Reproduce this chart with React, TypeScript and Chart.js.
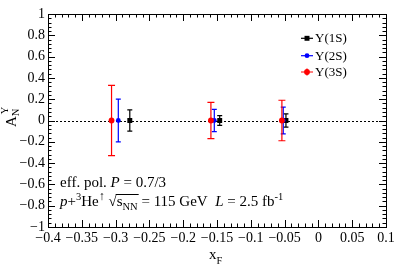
import React, { useEffect, useRef } from 'react';
import { Chart, registerables } from 'chart.js';

Chart.register(...registerables);

// ---- data ----
const xTickValues = [-0.4, -0.35, -0.3, -0.25, -0.2, -0.15, -0.1, -0.05, 0, 0.05, 0.1];
const yTickValues = [-1, -0.8, -0.6, -0.4, -0.2, 0, 0.2, 0.4, 0.6, 0.8, 1];
const seriesLabels = ['Υ(1S)', 'Υ(2S)', 'Υ(3S)'];

const xF1S = [-0.279, -0.146, -0.048];
const aN1S = [0, 0, 0];
const err1S = [0.10, 0.045, 0.062];

const xF2S = [-0.296, -0.154, -0.052];
const aN2S = [0, 0, 0];
const err2S = [0.20, 0.105, 0.125];

const xF3S = [-0.306, -0.159, -0.054];
const aN3S = [0, 0, 0];
const err3S = [0.33, 0.17, 0.19];

const SERIF = '"Liberation Serif", "Times New Roman", serif';

type Series = {
  label: string;
  color: string;
  xs: number[];
  ys: number[];
  errs: number[];
  style: 'rect' | 'circle';
  radius: number;
  cap: number;
  order: number;
};

const series: Series[] = [
  { label: seriesLabels[0], color: '#000000', xs: xF1S, ys: aN1S, errs: err1S, style: 'rect', radius: 3.5, cap: 5, order: 2 },
  { label: seriesLabels[1], color: '#0000ff', xs: xF2S, ys: aN2S, errs: err2S, style: 'circle', radius: 2.4, cap: 5, order: 1 },
  { label: seriesLabels[2], color: '#ff0000', xs: xF3S, ys: aN3S, errs: err3S, style: 'circle', radius: 2.9, cap: 7, order: 0 },
];

const fmt = (v: number) => {
  const r = Math.round(v * 100) / 100;
  return r < 0 ? '\u2212' + String(-r) : String(r);
};

type Seg = { t: string; it?: boolean; sh?: number; sc?: number; over?: boolean };

function drawRich(ctx: CanvasRenderingContext2D, segs: Seg[], x: number, y: number, size: number) {
  let cx = x;
  let overStart: number | null = null;
  let overEnd = 0;
  ctx.textBaseline = 'alphabetic';
  ctx.textAlign = 'left';
  for (const s of segs) {
    const fs = size * (s.sc ?? 1);
    ctx.font = `${s.it ? 'italic ' : ''}${fs}px ${SERIF}`;
    const w = ctx.measureText(s.t).width;
    ctx.fillText(s.t, cx, y + (s.sh ?? 0) * size);
    if (s.over) {
      if (overStart === null) overStart = cx;
      overEnd = cx + w;
    }
    cx += w;
  }
  if (overStart !== null) {
    ctx.beginPath();
    ctx.lineWidth = 1;
    const oy = Math.round(y - size * 0.82) + 0.5;
    ctx.moveTo(overStart - 1, oy);
    ctx.lineTo(overEnd + 1, oy);
    ctx.stroke();
  }
}

function drawMarker(ctx: CanvasRenderingContext2D, s: Series, px: number, py: number) {
  ctx.fillStyle = s.color;
  ctx.beginPath();
  if (s.style === 'rect') {
    const h = s.radius * Math.SQRT1_2;
    ctx.rect(px - h, py - h, 2 * h, 2 * h);
  } else {
    ctx.arc(px, py, s.radius, 0, Math.PI * 2);
  }
  ctx.fill();
}

const rootPlugin = {
  id: 'rootStyle',
  beforeDatasetsDraw(chart: any) {
    const { ctx, chartArea: a, scales } = chart;
    const xs = scales.x;
    const ys = scales.y;
    ctx.save();
    // dotted zero line
    const y0 = Math.round(ys.getPixelForValue(0)) + 0.5;
    ctx.strokeStyle = '#000';
    ctx.lineWidth = 1;
    ctx.setLineDash([2, 2]);
    ctx.beginPath();
    ctx.moveTo(a.left, y0);
    ctx.lineTo(a.right, y0);
    ctx.stroke();
    ctx.setLineDash([]);
    // error bars
    const ordered = [...series].sort((p, q) => q.order - p.order);
    for (const s of ordered) {
      ctx.strokeStyle = s.color;
      ctx.lineWidth = 1.2;
      s.xs.forEach((xv, j) => {
        const px = xs.getPixelForValue(xv);
        const top = ys.getPixelForValue(s.ys[j] + s.errs[j]);
        const bot = ys.getPixelForValue(s.ys[j] - s.errs[j]);
        ctx.beginPath();
        ctx.moveTo(px, top);
        ctx.lineTo(px, bot);
        ctx.moveTo(px - s.cap / 2, top);
        ctx.lineTo(px + s.cap / 2, top);
        ctx.moveTo(px - s.cap / 2, bot);
        ctx.lineTo(px + s.cap / 2, bot);
        ctx.stroke();
      });
    }
    ctx.restore();
  },
  afterDraw(chart: any) {
    const { ctx, chartArea: a, scales } = chart;
    const xs = scales.x;
    const ys = scales.y;
    ctx.save();
    ctx.strokeStyle = '#000';
    ctx.fillStyle = '#000';
    ctx.lineWidth = 1;
    // frame
    ctx.strokeRect(Math.round(a.left) + 0.5, Math.round(a.top) + 0.5, Math.round(a.right - a.left), Math.round(a.bottom - a.top));
    // ticks (inward, mirrored)
    const majorLen = 7;
    const minorLen = 3.5;
    ctx.beginPath();
    for (let i = 0; i <= 50; i++) {
      const v = -0.4 + i * 0.01;
      const px = Math.round(xs.getPixelForValue(v)) + 0.5;
      const len = i % 5 === 0 ? majorLen : minorLen;
      ctx.moveTo(px, a.bottom);
      ctx.lineTo(px, a.bottom - len);
      ctx.moveTo(px, a.top);
      ctx.lineTo(px, a.top + len);
    }
    for (let i = 0; i <= 50; i++) {
      const v = -1 + i * 0.04;
      const py = Math.round(ys.getPixelForValue(v)) + 0.5;
      const len = i % 5 === 0 ? majorLen : minorLen;
      ctx.moveTo(a.left, py);
      ctx.lineTo(a.left + len, py);
      ctx.moveTo(a.right, py);
      ctx.lineTo(a.right - len, py);
    }
    ctx.stroke();

    // x title
    drawRich(ctx, [{ t: 'x' }, { t: 'F', sc: 0.7, sh: 0.3 }], 209, 259, 15);

    // y title (rotated)
    ctx.save();
    ctx.translate(15.5, 127);
    ctx.rotate(-Math.PI / 2);
    ctx.font = `15px ${SERIF}`;
    ctx.textBaseline = 'alphabetic';
    ctx.textAlign = 'left';
    ctx.fillText('A', 0, 0);
    const wA = ctx.measureText('A').width;
    ctx.font = `10.5px ${SERIF}`;
    ctx.fillText('N', wA, 3.5);
    ctx.fillText('Υ', wA + 2, -7.5);
    ctx.restore();

    // legend
    const legY = [38.3, 55.7, 72];
    series.forEach((s, i) => {
      const ly = legY[i];
      ctx.strokeStyle = s.color;
      ctx.lineWidth = 1.2;
      ctx.beginPath();
      ctx.moveTo(301, ly);
      ctx.lineTo(313, ly);
      if (s.order === 0) {
        ctx.moveTo(307, ly - 3.5);
        ctx.lineTo(307, ly + 3.5);
      }
      ctx.stroke();
      drawMarker(ctx, s, 307, ly);
      ctx.fillStyle = '#000';
      ctx.font = `13px ${SERIF}`;
      ctx.textBaseline = 'middle';
      ctx.textAlign = 'left';
      ctx.fillText(s.label, 315, ly + 0.5);
    });

    // annotation text
    ctx.fillStyle = '#000';
    ctx.strokeStyle = '#000';
    drawRich(ctx, [{ t: 'eff. pol. ' }, { t: 'P', it: true }, { t: ' = 0.7/3' }], 60, 187, 15);
    drawRich(
      ctx,
      [
        { t: 'p', it: true },
        { t: '+' },
        { t: '3', sc: 0.7, sh: -0.4 },
        { t: 'He' },
        { t: '\u2191', sc: 0.8, sh: -0.4 },
        { t: ' ' },
        { t: '\u221A' },
        { t: 's', over: true },
        { t: 'NN', sc: 0.7, sh: 0.25, over: true },
        { t: ' = 115 GeV  ' },
        { t: 'L', it: true },
        { t: ' = 2.5 fb' },
        { t: '-1', sc: 0.7, sh: -0.4 },
      ],
      60,
      206,
      15
    );
    ctx.restore();
  },
};

export default function App() {
  const canvasRef = useRef<HTMLCanvasElement | null>(null);

  useEffect(() => {
    const canvas = canvasRef.current;
    if (!canvas) return;
    const chart = new Chart(canvas, {
      type: 'scatter',
      data: {
        datasets: series.map((s) => ({
          label: s.label,
          data: s.xs.map((xv, j) => ({ x: xv, y: s.ys[j] })),
          backgroundColor: s.color,
          borderColor: s.color,
          borderWidth: 0,
          pointStyle: s.style,
          pointRadius: s.radius,
          pointHoverRadius: s.radius,
          order: s.order,
        })),
      },
      options: {
        animation: false,
        responsive: false,
        devicePixelRatio: 1,
        events: [],
        layout: { padding: { left: 0, top: 14, right: 13, bottom: 0 } },
        plugins: {
          legend: { display: false },
          tooltip: { enabled: false },
          title: { display: false },
        },
        scales: {
          x: {
            type: 'linear',
            min: -0.4,
            max: 0.1,
            afterBuildTicks: (s: any) => {
              s.ticks = xTickValues.map((v) => ({ value: v }));
            },
            afterFit: (s: any) => {
              s.height = 44;
            },
            ticks: {
              callback: (v: any) => fmt(Number(v)),
              font: { family: SERIF, size: 14 },
              color: '#000',
              padding: 3,
              maxRotation: 0,
              autoSkip: false,
            },
            grid: { display: false, drawTicks: false },
            border: { display: false },
          },
          y: {
            type: 'linear',
            min: -1,
            max: 1,
            afterBuildTicks: (s: any) => {
              s.ticks = yTickValues.map((v) => ({ value: v }));
            },
            afterFit: (s: any) => {
              s.width = 48;
            },
            ticks: {
              callback: (v: any) => fmt(Number(v)),
              font: { family: SERIF, size: 14 },
              color: '#000',
              padding: 3,
              autoSkip: false,
            },
            grid: { display: false, drawTicks: false },
            border: { display: false },
          },
        },
      },
      plugins: [rootPlugin],
    });
    return () => chart.destroy();
  }, []);

  return (
    <div style={{ position: 'absolute', left: 0, top: 0, width: 399, height: 271, background: '#fff' }}>
      <canvas ref={canvasRef} width={399} height={271} style={{ width: 399, height: 271, display: 'block' }} />
    </div>
  );
}
